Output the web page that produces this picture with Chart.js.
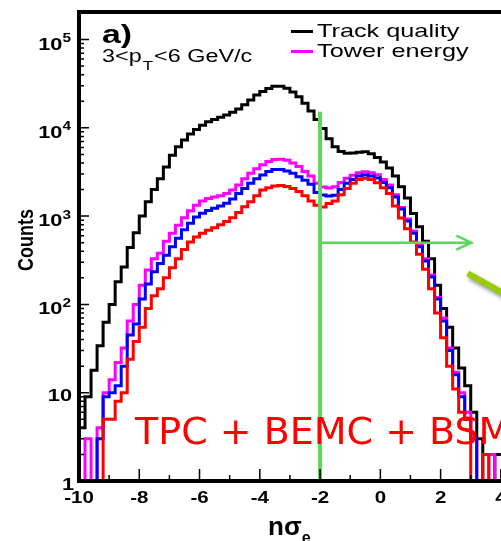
<!DOCTYPE html>
<html lang="en">
<head>
<meta charset="UTF-8">
<title>n sigma e distribution</title>
<script src="https://cdn.jsdelivr.net/npm/chart.js/dist/chart.umd.min.js"></script>
<style>
  html, body { margin: 0; padding: 0; background: #fff; overflow: hidden; }
  #wrap { position: absolute; left: 0; top: 0; width: 545px; height: 541px; }
</style>
</head>
<body>
<div id="wrap"><canvas id="myChart" width="545" height="541"></canvas></div>
<script>
// histogram bin edges (n sigma_e), 0.2 wide
const binEdges = [-10, -9.8, -9.6, -9.4, -9.2, -9, -8.8, -8.6, -8.4, -8.2,
  -8, -7.8, -7.6, -7.4, -7.2, -7, -6.8, -6.6, -6.4, -6.2,
  -6, -5.8, -5.6, -5.4, -5.2, -5, -4.8, -4.6, -4.4, -4.2,
  -4, -3.8, -3.6, -3.4, -3.2, -3, -2.8, -2.6, -2.4, -2.2,
  -2, -1.8, -1.6, -1.4, -1.2, -1, -0.8, -0.6, -0.4, -0.2,
  0, 0.2, 0.4, 0.6, 0.8, 1, 1.2, 1.4, 1.6, 1.8,
  2, 2.2, 2.4, 2.6, 2.8, 3, 3.2, 3.4, 3.6, 3.8, 4];

// counts per bin (1 = empty bin, sits on the axis)
const trackQuality = [4, 9, 18, 34, 63, 100, 180, 265, 440, 650,
  1000, 1450, 2000, 2650, 3600, 4900, 6100, 7300, 8500, 9600,
  10700, 11700, 12400, 13200, 14000, 15000, 16300, 18300, 20600, 23500,
  25800, 27800, 29500, 29500, 28000, 25500, 22500, 19000, 15500, 12400,
  9800, 7500, 6100, 5400, 5150, 5200, 5300, 5350, 5100, 4600,
  4100, 3500, 2850, 2150, 1600, 1070, 760, 520, 330, 165,
  90, 55, 32, 19, 12, 6, 3, 1, 1, 2];
const towerEnergy = [1, 3, 1, 4, 10, 14, 22, 32, 65, 100,
  165, 245, 330, 380, 520, 640, 790, 960, 1150, 1330,
  1480, 1580, 1650, 1700, 1800, 1980, 2250, 2650, 3050, 3450,
  3820, 4150, 4380, 4400, 4300, 4000, 3650, 3200, 2850, 2350,
  2130, 2080, 2150, 2400, 2690, 2900, 3100, 3170, 3100, 2950,
  2600, 2250, 1750, 1250, 930, 680, 470, 330, 215, 120,
  70, 32, 17, 10, 6, 3, 1, 1, 2, 1];
const emcCuts = [1, 1, 1, 3, 9, 10, 12, 20, 45, 60,
  115, 170, 235, 290, 360, 450, 560, 700, 830, 980,
  1080, 1160, 1230, 1300, 1400, 1560, 1800, 2050, 2350, 2650,
  2930, 3200, 3380, 3380, 3250, 3050, 2800, 2550, 2300, 1850,
  1740, 1690, 1720, 2000, 2350, 2600, 2850, 2930, 2850, 2700,
  2400, 2100, 1650, 1200, 880, 640, 450, 310, 205, 115,
  65, 30, 16, 9, 5, 3, 1, 1, 1, 1];
const allCuts = [1, 1, 1, 1, 5, 5, 8, 10, 24, 38,
  55, 90, 125, 150, 200, 260, 330, 420, 510, 580,
  640, 690, 740, 800, 870, 960, 1100, 1280, 1450, 1700,
  1970, 2100, 2200, 2220, 2170, 2050, 1900, 1700, 1480, 1330,
  1270, 1390, 1480, 1750, 2050, 2350, 2600, 2690, 2600, 2380,
  2100, 1800, 1300, 950, 720, 510, 370, 250, 150, 80,
  42, 20, 11, 6, 5, 1, 1, 2, 1, 1];

// axes
const xMajorTicks = [-10, -8, -6, -4, -2, 0, 2, 4];
const xMinorTicks = [-9, -7, -5, -3, -1, 1, 3];
const yDecades = [0, 1, 2, 3, 4, 5];

// cut annotations
const cutX = -2;
const cutTop = 15200;
const arrowY = 500;
const arrowEnd = 3.02;
const pointerFrom = [2.9, 225];
const pointerTo = [4.3, 122];

function histPoints(vals) {
  const pts = vals.map((v, i) => ({ x: binEdges[i], y: v }));
  pts.push({ x: binEdges[binEdges.length - 1], y: vals[vals.length - 1] });
  return pts;
}

function sText(ctx, str, x, y, font, sx, align) {
  ctx.save();
  ctx.font = font;
  ctx.translate(x, y);
  ctx.scale(sx, 1);
  const w = ctx.measureText(str).width;
  let dx = 0;
  if (align === 'right') dx = -w;
  else if (align === 'center') dx = -w / 2;
  ctx.fillText(str, dx, 0);
  ctx.restore();
  return w * sx;
}

const SANS = '"Liberation Sans", Arial, Helvetica, sans-serif';

const rootFrame = {
  id: 'rootFrame',
  afterDatasetsDraw(chart) {
    const ctx = chart.ctx;
    const xs = chart.scales.x, ys = chart.scales.y;
    const a = chart.chartArea;
    const px = v => xs.getPixelForValue(v);
    const py = v => ys.getPixelForValue(v);

    ctx.save();
    ctx.textBaseline = 'alphabetic';
    ctx.textAlign = 'left';

    // cut line and arrow
    ctx.strokeStyle = '#5cd65c';
    ctx.lineWidth = 4;
    ctx.beginPath();
    ctx.moveTo(px(cutX), py(1));
    ctx.lineTo(px(cutX), py(cutTop));
    ctx.stroke();
    ctx.lineWidth = 2.5;
    ctx.beginPath();
    ctx.moveTo(px(cutX), py(arrowY));
    ctx.lineTo(px(arrowEnd), py(arrowY));
    ctx.moveTo(px(arrowEnd) - 15, py(arrowY) - 7);
    ctx.lineTo(px(arrowEnd), py(arrowY));
    ctx.lineTo(px(arrowEnd) - 15, py(arrowY) + 7);
    ctx.stroke();

    // pointer from the next panel
    ctx.save();
    ctx.shadowColor = 'rgba(0,0,0,0.45)';
    ctx.shadowBlur = 4;
    ctx.shadowOffsetX = 2;
    ctx.shadowOffsetY = 3;
    ctx.strokeStyle = '#99cc00';
    ctx.lineWidth = 6;
    ctx.beginPath();
    ctx.moveTo(px(pointerFrom[0]), py(pointerFrom[1]));
    ctx.lineTo(px(pointerTo[0]), py(pointerTo[1]));
    ctx.stroke();
    ctx.restore();

    // detector label
    ctx.fillStyle = '#ff0000';
    ctx.font = '38px "DejaVu Sans", Verdana, sans-serif';
    ctx.fillText('TPC + BEMC + BSM', 135, 443.5);

    // frame
    ctx.strokeStyle = '#000';
    ctx.lineWidth = 4;
    ctx.strokeRect(a.left, a.top, a.right - a.left, a.bottom - a.top);

    // x ticks
    ctx.lineWidth = 1.5;
    ctx.beginPath();
    xMajorTicks.forEach(t => { ctx.moveTo(px(t), a.bottom); ctx.lineTo(px(t), a.bottom - 12); });
    xMinorTicks.forEach(t => { ctx.moveTo(px(t), a.bottom); ctx.lineTo(px(t), a.bottom - 6); });
    // y ticks
    yDecades.forEach(d => {
      const base = Math.pow(10, d);
      ctx.moveTo(a.left, py(base)); ctx.lineTo(a.left + 10, py(base));
      for (let m = 2; m <= 9; m++) {
        const v = base * m;
        if (v > ys.max) break;
        ctx.moveTo(a.left, py(v)); ctx.lineTo(a.left + 5, py(v));
      }
    });
    ctx.stroke();

    // tick labels
    ctx.fillStyle = '#000';
    xMajorTicks.forEach(t => {
      sText(ctx, String(t), px(t), a.bottom + 22, 'bold 16px ' + SANS, 1.28, 'center');
    });
    yDecades.forEach(d => {
      const y = py(Math.pow(10, d));
      if (d === 0) {
        sText(ctx, '1', 74, y + 9, 'bold 17px ' + SANS, 1.28, 'right');
      } else if (d === 1) {
        sText(ctx, '10', 72, y + 8.5, 'bold 17px ' + SANS, 1.28, 'right');
      } else {
        const sw = sText(ctx, String(d), 71, y + 2.5, 'bold 12px ' + SANS, 1.28, 'right');
        sText(ctx, '10', 71 - sw, y + 10, 'bold 17px ' + SANS, 1.28, 'right');
      }
    });

    // axis titles
    ctx.save();
    ctx.translate(27, 240);
    ctx.scale(1.25, 1);
    ctx.rotate(-Math.PI / 2);
    ctx.font = 'bold 18px ' + SANS;
    ctx.textAlign = 'center';
    ctx.textBaseline = 'middle';
    ctx.fillText('Counts', 0, 0);
    ctx.restore();

    let w = sText(ctx, 'n\u03c3', 268, 535, 'bold 26px ' + SANS, 1.0, 'left');
    sText(ctx, 'e', 268 + w, 543, 'bold 16px ' + SANS, 1.0, 'left');

    // panel label
    sText(ctx, 'a)', 102, 43, 'bold 26px ' + SANS, 1.3, 'left');
    let x0 = 102;
    x0 += sText(ctx, '3<p', x0, 62, '18px ' + SANS, 1.3, 'left');
    x0 += sText(ctx, 'T', x0 + 1, 70, '13px ' + SANS, 1.3, 'left') + 2;
    sText(ctx, '<6 GeV/c', x0, 62, '18px ' + SANS, 1.3, 'left');

    // legend
    ctx.lineWidth = 3;
    ctx.strokeStyle = '#000';
    ctx.beginPath(); ctx.moveTo(291, 31.5); ctx.lineTo(313, 31.5); ctx.stroke();
    ctx.strokeStyle = '#ff00ff';
    ctx.beginPath(); ctx.moveTo(291, 51.5); ctx.lineTo(313, 51.5); ctx.stroke();
    ctx.fillStyle = '#000';
    sText(ctx, 'Track quality', 317, 37, '19px ' + SANS, 1.33, 'left');
    sText(ctx, 'Tower energy', 317, 57, '19px ' + SANS, 1.33, 'left');

    ctx.restore();
  }
};

const lineStyle = { borderWidth: 3, stepped: true, pointRadius: 0, fill: false,
  borderJoinStyle: 'miter', borderCapStyle: 'butt' };

const ctx = document.getElementById('myChart').getContext('2d');
const myChart = new Chart(ctx, {
  type: 'line',
  data: {
    datasets: [
      Object.assign({ label: 'Track quality', data: histPoints(trackQuality), borderColor: '#000000', order: 3 }, lineStyle),
      Object.assign({ label: 'Tower energy', data: histPoints(towerEnergy), borderColor: '#ff00ff', order: 2 }, lineStyle),
      Object.assign({ label: 'EMC cuts', data: histPoints(emcCuts), borderColor: '#0000ff', order: 1 }, lineStyle),
      Object.assign({ label: 'TPC + BEMC + BSM', data: histPoints(allCuts), borderColor: '#ff0000', order: 0 }, lineStyle)
    ]
  },
  options: {
    responsive: false,
    animation: false,
    devicePixelRatio: 1,
    layout: { padding: { left: 79, right: 14, top: 12, bottom: 60 } },
    plugins: { legend: { display: false }, tooltip: { enabled: false } },
    scales: {
      x: { type: 'linear', min: -10, max: 5, display: false },
      y: { type: 'logarithmic', min: 1, max: 2.05e5, display: false }
    }
  },
  plugins: [rootFrame]
});
</script>
</body>
</html>
